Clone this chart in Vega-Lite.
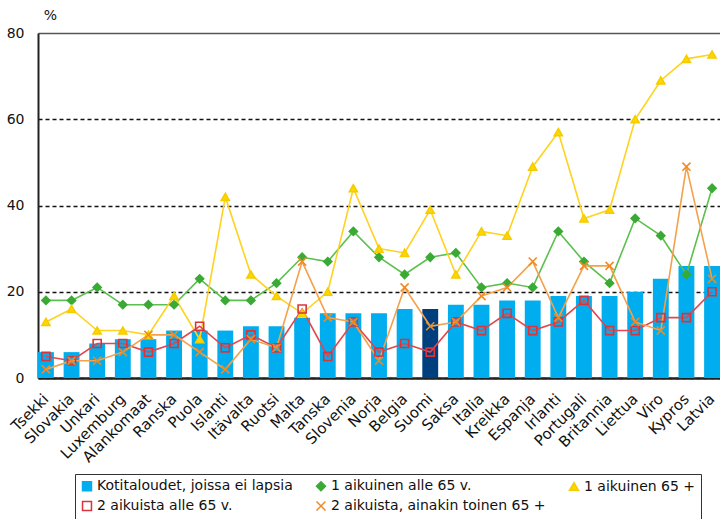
{
  "$schema": "https://vega.github.io/schema/vega-lite/v6.json",
  "width": 682,
  "height": 345,
  "autosize": {"type": "none"},
  "padding": {"left": 38, "top": 33, "right": 0, "bottom": 141},
  "background": "white",
  "config": {
    "view": {"stroke": null},
    "font": "DejaVu Sans",
    "legend": {
      "orient": "none",
      "legendX": 37,
      "legendY": 441,
      "direction": "horizontal",
      "columns": 3,
      "strokeColor": "#333",
      "padding": 5,
      "fillColor": "white",
      "labelFont": "DejaVu Sans",
      "labelFontSize": 14,
      "labelColor": "#111",
      "symbolSize": 80,
      "symbolStrokeWidth": 1.5,
      "columnPadding": 20,
      "rowPadding": 4,
      "labelLimit": 400,
      "gridAlign": "each",
      "labelOffset": 3
    }
  },
  "data": {
    "values": [
      {"maa": "Tsekki", "k": 6, "a1": 18, "a1v": 13, "a2": 5, "a2v": 2},
      {"maa": "Slovakia", "k": 6, "a1": 18, "a1v": 16, "a2": 4, "a2v": 4},
      {"maa": "Unkari", "k": 8, "a1": 21, "a1v": 11, "a2": 8, "a2v": 4},
      {"maa": "Luxemburg", "k": 9, "a1": 17, "a1v": 11, "a2": 8, "a2v": 6},
      {"maa": "Alankomaat", "k": 9, "a1": 17, "a1v": 10, "a2": 6, "a2v": 10},
      {"maa": "Ranska", "k": 11, "a1": 17, "a1v": 19, "a2": 8, "a2v": 10},
      {"maa": "Puola", "k": 11, "a1": 23, "a1v": 9, "a2": 12, "a2v": 6},
      {"maa": "Islanti", "k": 11, "a1": 18, "a1v": 42, "a2": 7, "a2v": 2},
      {"maa": "Itävalta", "k": 12, "a1": 18, "a1v": 24, "a2": 10, "a2v": 9},
      {"maa": "Ruotsi", "k": 12, "a1": 22, "a1v": 19, "a2": 7, "a2v": 7},
      {"maa": "Malta", "k": 14, "a1": 28, "a1v": 15, "a2": 16, "a2v": 27},
      {"maa": "Tanska", "k": 15, "a1": 27, "a1v": 20, "a2": 5, "a2v": 14},
      {"maa": "Slovenia", "k": 15, "a1": 34, "a1v": 44, "a2": 13, "a2v": 13},
      {"maa": "Norja", "k": 15, "a1": 28, "a1v": 30, "a2": 6, "a2v": 4},
      {"maa": "Belgia", "k": 16, "a1": 24, "a1v": 29, "a2": 8, "a2v": 21},
      {"maa": "Suomi", "k": 16, "a1": 28, "a1v": 39, "a2": 6, "a2v": 12},
      {"maa": "Saksa", "k": 17, "a1": 29, "a1v": 24, "a2": 13, "a2v": 13},
      {"maa": "Italia", "k": 17, "a1": 21, "a1v": 34, "a2": 11, "a2v": 19},
      {"maa": "Kreikka", "k": 18, "a1": 22, "a1v": 33, "a2": 15, "a2v": 21},
      {"maa": "Espanja", "k": 18, "a1": 21, "a1v": 49, "a2": 11, "a2v": 27},
      {"maa": "Irlanti", "k": 19, "a1": 34, "a1v": 57, "a2": 13, "a2v": 14},
      {"maa": "Portugali", "k": 19, "a1": 27, "a1v": 37, "a2": 18, "a2v": 26},
      {"maa": "Britannia", "k": 19, "a1": 22, "a1v": 39, "a2": 11, "a2v": 26},
      {"maa": "Liettua", "k": 20, "a1": 37, "a1v": 60, "a2": 11, "a2v": 13},
      {"maa": "Viro", "k": 23, "a1": 33, "a1v": 69, "a2": 14, "a2v": 11},
      {"maa": "Kypros", "k": 26, "a1": 24, "a1v": 74, "a2": 14, "a2v": 49},
      {"maa": "Latvia", "k": 26, "a1": 44, "a1v": 75, "a2": 20, "a2v": 23}
    ]
  },
  "encoding": {
    "x": {
      "field": "maa",
      "type": "nominal",
      "sort": ["Tsekki", "Slovakia", "Unkari", "Luxemburg", "Alankomaat", "Ranska", "Puola", "Islanti", "Itävalta", "Ruotsi", "Malta", "Tanska", "Slovenia", "Norja", "Belgia", "Suomi", "Saksa", "Italia", "Kreikka", "Espanja", "Irlanti", "Portugali", "Britannia", "Liettua", "Viro", "Kypros", "Latvia"],
      "scale": {"paddingInner": 0.38, "paddingOuter": 0},
      "axis": {
        "title": null,
        "domainColor": "#222",
        "domainWidth": 2.5,
        "ticks": false,
        "grid": false,
        "labelAngle": -45,
        "labelAlign": "right",
        "labelBaseline": "middle",
        "labelPadding": 18,
        "labelFont": "DejaVu Sans",
        "labelFontSize": 15,
        "labelColor": "#111"
      }
    }
  },
  "layer": [
    {
      "mark": {"type": "bar"},
      "encoding": {
        "y": {
          "field": "k",
          "type": "quantitative",
          "scale": {"domain": [0, 80]},
          "axis": {
            "title": "%",
            "titleAngle": 0,
            "titleX": 12,
            "titleY": -18,
            "titleAlign": "center",
            "titleBaseline": "middle",
            "titleFont": "DejaVu Sans",
            "titleFontSize": 14,
            "titleFontWeight": "normal",
            "titleColor": "#111",
            "values": [0, 20, 40, 60, 80],
            "domainColor": "#222",
            "domainWidth": 2,
            "ticks": false,
            "labelPadding": 14,
            "labelFont": "DejaVu Sans",
            "labelFontSize": 14,
            "labelColor": "#111",
            "grid": true,
            "gridColor": {"condition": {"test": "datum.value === 80", "value": "#555"}, "value": "#111"},
            "gridDash": {"condition": {"test": "datum.value === 80", "value": []}, "value": [4, 3]},
            "gridWidth": 1.4
          }
        },
        "color": {"condition": {"test": "datum.maa === 'Suomi'", "value": "#003f7d"}, "value": "#00aeef"}
      }
    },
    {
      "transform": [{"fold": ["a1", "a1v", "a2", "a2v"], "as": ["sarja", "arvo"]}],
      "mark": {"type": "line", "strokeWidth": 1.6},
      "encoding": {
        "y": {"field": "arvo", "type": "quantitative", "axis": {"title": "%"}},
        "stroke": {
          "field": "sarja",
          "type": "nominal",
          "scale": {"domain": ["a1", "a1v", "a2", "a2v"], "range": ["#5cc04e", "#ffd21f", "#e0474c", "#f5a04a"]},
          "legend": null
        }
      }
    },
    {
      "transform": [{"fold": ["a1", "a1v", "a2", "a2v"], "as": ["sarja", "arvo"]}],
      "mark": {"type": "point", "filled": false, "strokeWidth": 1.6, "size": 65, "opacity": 1},
      "encoding": {
        "y": {"field": "arvo", "type": "quantitative", "axis": {"title": "%"}},
        "color": {
          "field": "sarja",
          "type": "nominal",
          "scale": {"domain": ["k", "a1", "a1v", "a2", "a2v"], "range": ["#00aeef", "#3aaa35", "#f5cc00", "#d9343c", "#f08a24"]},
          "legend": {
            "title": null,
            "labelExpr": "datum.value === 'k' ? 'Kotitaloudet, joissa ei lapsia' : datum.value === 'a1' ? '1 aikuinen alle 65 v.' : datum.value === 'a1v' ? '1 aikuinen 65 +' : datum.value === 'a2' ? '2 aikuista alle 65 v.' : '2 aikuista, ainakin toinen 65 +'"
          }
        },
        "fill": {
          "field": "sarja",
          "type": "nominal",
          "scale": {"domain": ["k", "a1", "a1v", "a2", "a2v"], "range": ["#00aeef", "#3aaa35", "#ffd700", "transparent", "transparent"]},
          "legend": {
            "title": null,
            "labelExpr": "datum.value === 'k' ? 'Kotitaloudet, joissa ei lapsia' : datum.value === 'a1' ? '1 aikuinen alle 65 v.' : datum.value === 'a1v' ? '1 aikuinen 65 +' : datum.value === 'a2' ? '2 aikuista alle 65 v.' : '2 aikuista, ainakin toinen 65 +'"
          }
        },
        "shape": {
          "field": "sarja",
          "type": "nominal",
          "scale": {"domain": ["k", "a1", "a1v", "a2", "a2v"], "range": ["square", "diamond", "triangle-up", "square", "M-1,-1L1,1M-1,1L1,-1"]},
          "legend": {
            "title": null,
            "labelExpr": "datum.value === 'k' ? 'Kotitaloudet, joissa ei lapsia' : datum.value === 'a1' ? '1 aikuinen alle 65 v.' : datum.value === 'a1v' ? '1 aikuinen 65 +' : datum.value === 'a2' ? '2 aikuista alle 65 v.' : '2 aikuista, ainakin toinen 65 +'"
          }
        }
      }
    }
  ]
}
